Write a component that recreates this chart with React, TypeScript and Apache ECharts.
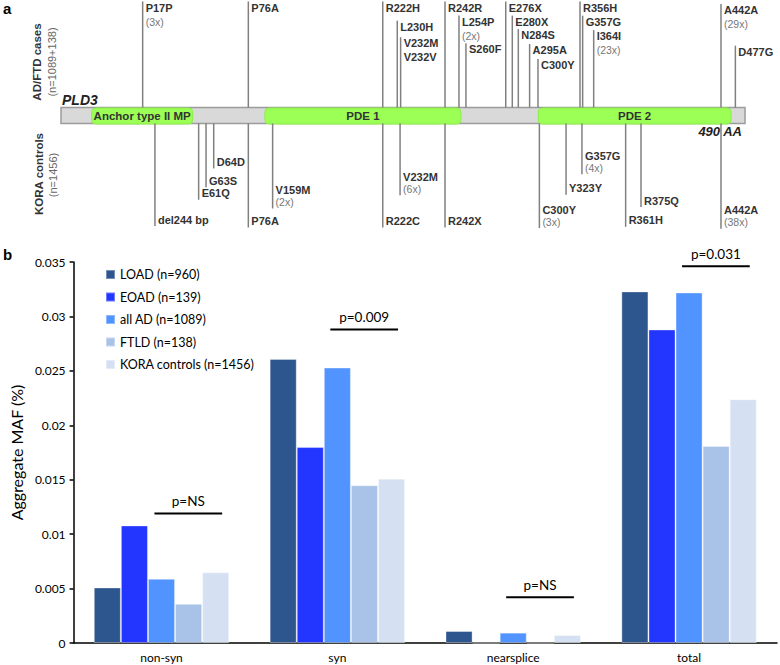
import React, { useEffect, useRef } from "react";
import * as echarts from "echarts";

// ---------- panel b data ----------
const categories = ["non-syn", "syn", "nearsplice", "total"];
const groupNames = [
  "LOAD (n=960)",
  "EOAD (n=139)",
  "all AD (n=1089)",
  "FTLD (n=138)",
  "KORA controls (n=1456)",
];
const loadValues = [0.0051, 0.0261, 0.0011, 0.0323];
const eoadValues = [0.0108, 0.018, 0, 0.0288];
const allAdValues = [0.0059, 0.0253, 0.00095, 0.0322];
const ftldValues = [0.0036, 0.0145, 0, 0.0181];
const koraValues = [0.0065, 0.0151, 0.00073, 0.0224];
const groupValues = [loadValues, eoadValues, allAdValues, ftldValues, koraValues];
const groupColors = ["#2E568E", "#2336FF", "#5294FF", "#A9C3E8", "#D5E1F3"];
const yMax = 0.035;
const yInterval = 0.005;
const pAnnotations = [
  { cat: "non-syn", y: 0.0119, label: "p=NS" },
  { cat: "syn", y: 0.0288, label: "p=0.009" },
  { cat: "nearsplice", y: 0.0042, label: "p=NS" },
  { cat: "total", y: 0.0346, label: "p=0.031" },
];

// ---------- panel a data (schematic position along the 490 AA diagram) ----------
const proteinLength = 490;
const backbone = [[0, proteinLength]];
const domains = [
  { name: "Anchor type II MP", start: 22.0, end: 94.3 },
  { name: "PDE 1", start: 146.1, end: 286.5 },
  { name: "PDE 2", start: 341.9, end: 480.0 },
];
type Mut = { label: string; label2?: string; count?: string; x: number; tier: number };
const caseMutations: Mut[] = [
  { label: "P17P", count: "(3x)", x: 58.5, tier: 0 },
  { label: "P76A", x: 134.2, tier: 0 },
  { label: "R222H", x: 230.5, tier: 0 },
  { label: "L230H", x: 240.9, tier: 1.34 },
  { label: "V232M", label2: "V232V", x: 243.3, tier: 2.5 },
  { label: "R242R", x: 275.1, tier: 0 },
  { label: "L254P", count: "(2x)", x: 285.1, tier: 0.98 },
  { label: "S260F", x: 290.1, tier: 2.92 },
  { label: "E276X", x: 318.6, tier: 0 },
  { label: "E280X", x: 323.3, tier: 0.99 },
  { label: "N284S", x: 327.6, tier: 1.93 },
  { label: "A295A", x: 335.7, tier: 2.97 },
  { label: "C300Y", x: 341.7, tier: 4.02 },
  { label: "R356H", x: 371.8, tier: 0 },
  { label: "G357G", x: 373.7, tier: 0.99 },
  { label: "I364I", count: "(23x)", x: 381.6, tier: 2.0 },
  { label: "A442A", count: "(29x)", x: 472.8, tier: 0.17 },
  { label: "D477G", x: 483.1, tier: 3.09 },
];
const controlMutations: Mut[] = [
  { label: "del244 bp", x: 67.3, tier: 0.1 },
  { label: "E61Q", x: 98.6, tier: 1.94 },
  { label: "G63S", x: 103.9, tier: 2.81 },
  { label: "D64D", x: 109.4, tier: 4.13 },
  { label: "P76A", x: 134.2, tier: 0 },
  { label: "V159M", count: "(2x)", x: 151.6, tier: 2.17 },
  { label: "R222C", x: 230.5, tier: 0 },
  { label: "V232M", count: "(6x)", x: 242.9, tier: 3.1 },
  { label: "R242X", x: 275.1, tier: 0 },
  { label: "C300Y", count: "(3x)", x: 342.7, tier: 0.8 },
  { label: "Y323Y", x: 361.8, tier: 2.29 },
  { label: "G357G", count: "(4x)", x: 373.2, tier: 4.57 },
  { label: "R361H", x: 404.5, tier: 0.05 },
  { label: "R375Q", x: 415.5, tier: 1.43 },
  { label: "A442A", count: "(38x)", x: 472.8, tier: 0.75 },
];

// diagram vertical layout (in diagram units of the hidden y axis)
const BAR_TOP = 107.5;
const BAR_BOTTOM = 123.5;
const CASE_ROW0 = 7.5;
const CTRL_ROW0 = 221;
const ROW = 14.3;

const SANS = "Lato, 'Open Sans', sans-serif";
const ARIAL = "'Liberation Sans', Arial, sans-serif";
const LINE_COLOR = "#808080";

function mutationRenderer(list: Mut[], side: "case" | "ctrl") {
  return (params: any, api: any) => {
    const m = list[params.dataIndex];
    const x = api.coord([api.value(0), 0])[0];
    const children: any[] = [];
    const lines: { text: string; bold: boolean }[] = [{ text: m.label, bold: true }];
    if (m.label2) lines.push({ text: m.label2, bold: true });
    if (m.count) lines.push({ text: m.count, bold: false });
    const step = side === "case" ? 14 : 12;
    let y0: number, y1: number, firstY: number;
    if (side === "case") {
      firstY = api.coord([0, CASE_ROW0 + ROW * m.tier])[1];
      y0 = Math.max(1, firstY - 6);
      y1 = api.coord([0, BAR_TOP])[1];
    } else {
      firstY = api.coord([0, CTRL_ROW0 - ROW * m.tier])[1];
      y0 = api.coord([0, BAR_BOTTOM])[1];
      y1 = firstY + step * (lines.length - 1) + 6.5;
    }
    children.push({
      type: "line",
      shape: { x1: x, y1: y0, x2: x, y2: y1 },
      style: { stroke: LINE_COLOR, lineWidth: 1.5 },
    });
    lines.forEach((ln, i) => {
      children.push({
        type: "text",
        style: {
          text: ln.text,
          x: x + 3,
          y: firstY + i * step,
          align: "left",
          verticalAlign: "middle",
          fontFamily: ARIAL,
          fontSize: ln.bold ? 11 : 10.5,
          fontWeight: ln.bold ? "bold" : "normal",
          fill: ln.bold ? "#333333" : "#777777",
        },
      });
    });
    return { type: "group", children };
  };
}

export default function App() {
  const ref = useRef<HTMLDivElement>(null);
  useEffect(() => {
    if (!ref.current) return;
    const chart = echarts.init(ref.current, undefined, { renderer: "svg" });

    const barSeries = groupNames.map((name, i) => ({
      name,
      type: "bar",
      xAxisIndex: 0,
      yAxisIndex: 0,
      data: groupValues[i],
      barGap: "0%",
      barCategoryGap: "23%",
      itemStyle: {
        color: groupColors[i],
        borderColor: "rgba(255,255,255,0.35)",
        borderWidth: 1,
      },
    }));

    const option: any = {
      animation: false,
      backgroundColor: "#ffffff",
      grid: [
        { left: 67, right: 3, top: 262, bottom: 22 },
        { left: 61, width: 684, top: 0, height: 240 },
      ],
      xAxis: [
        {
          type: "category",
          gridIndex: 0,
          data: categories,
          axisLine: { lineStyle: { color: "#000", width: 1.5 } },
          axisTick: { length: 4, lineStyle: { color: "#000", width: 1.5 } },
          axisLabel: { fontFamily: SANS, fontSize: 12, color: "#000", margin: 8 },
        },
        { type: "value", gridIndex: 1, min: 0, max: proteinLength, show: false },
      ],
      yAxis: [
        {
          type: "value",
          gridIndex: 0,
          min: 0,
          max: yMax,
          interval: yInterval,
          splitLine: { show: false },
          axisLine: { show: true, lineStyle: { color: "#000", width: 1.5 } },
          axisTick: { show: true, length: 4, lineStyle: { color: "#000", width: 1.5 } },
          axisLabel: {
            fontFamily: SANS,
            fontSize: 12,
            color: "#000",
            margin: 8,
            formatter: (v: number) => (v === 0 ? "0" : String(+v.toFixed(3))),
          },
          name: "Aggregate MAF (%)",
          nameLocation: "middle",
          nameGap: 37,
          nameTextStyle: { fontFamily: SANS, fontSize: 16, color: "#000" },
        },
        { type: "value", gridIndex: 1, min: 0, max: 240, inverse: true, show: false },
      ],
      legend: {
        data: groupNames,
        orient: "vertical",
        left: 100,
        top: 263,
        itemWidth: 9,
        itemHeight: 9,
        itemGap: 9.5,
        icon: "rect",
        textStyle: { fontFamily: SANS, fontSize: 12.5, color: "#000", lineHeight: 13 },
      },
      series: [
        ...barSeries,
        {
          type: "custom",
          name: "pvalues",
          xAxisIndex: 0,
          yAxisIndex: 0,
          z: 5,
          data: pAnnotations.map((p) => [categories.indexOf(p.cat), p.y]),
          renderItem: (params: any, api: any) => {
            const p = pAnnotations[params.dataIndex];
            const c = api.coord([api.value(0), api.value(1)]);
            const w = api.size([1, 0])[0];
            const xa = c[0] - 0.04 * w;
            const xb = c[0] + 0.345 * w;
            return {
              type: "group",
              children: [
                {
                  type: "line",
                  shape: { x1: xa, y1: c[1], x2: xb, y2: c[1] },
                  style: { stroke: "#000", lineWidth: 2 },
                },
                {
                  type: "text",
                  style: {
                    text: p.label,
                    x: (xa + xb) / 2,
                    y: c[1] - 12,
                    align: "center",
                    verticalAlign: "middle",
                    fontFamily: SANS,
                    fontSize: 13.5,
                    fill: "#000",
                  },
                },
              ],
            };
          },
        },
        {
          type: "custom",
          name: "backbone",
          xAxisIndex: 1,
          yAxisIndex: 1,
          z: 1,
          data: backbone,
          renderItem: (params: any, api: any) => {
            const a = api.coord([api.value(0), BAR_TOP]);
            const b = api.coord([api.value(1), BAR_BOTTOM]);
            return {
              type: "rect",
              shape: { x: a[0], y: a[1], width: b[0] - a[0], height: b[1] - a[1] },
              style: { fill: "#D9D9D9", stroke: "#9C9C9C", lineWidth: 1.5 },
            };
          },
        },
        {
          type: "custom",
          name: "domains",
          xAxisIndex: 1,
          yAxisIndex: 1,
          z: 2,
          data: domains.map((d) => [d.start, d.end]),
          renderItem: (params: any, api: any) => {
            const d = domains[params.dataIndex];
            const a = api.coord([api.value(0), BAR_TOP + 0.5]);
            const b = api.coord([api.value(1), BAR_BOTTOM + 0.5]);
            return {
              type: "group",
              children: [
                {
                  type: "rect",
                  shape: { x: a[0], y: a[1], width: b[0] - a[0], height: b[1] - a[1], r: 4 },
                  style: { fill: "#9BFF55", stroke: "#8CEF48", lineWidth: 1 },
                },
                {
                  type: "text",
                  style: {
                    text: d.name,
                    x: (a[0] + b[0]) / 2,
                    y: (a[1] + b[1]) / 2,
                    align: "center",
                    verticalAlign: "middle",
                    fontFamily: ARIAL,
                    fontSize: 11.5,
                    fontWeight: "bold",
                    fill: "#333333",
                  },
                },
              ],
            };
          },
        },
        {
          type: "custom",
          name: "cases",
          xAxisIndex: 1,
          yAxisIndex: 1,
          z: 3,
          data: caseMutations.map((m) => [m.x, m.tier]),
          renderItem: mutationRenderer(caseMutations, "case"),
        },
        {
          type: "custom",
          name: "controls",
          xAxisIndex: 1,
          yAxisIndex: 1,
          z: 3,
          data: controlMutations.map((m) => [m.x, m.tier]),
          renderItem: mutationRenderer(controlMutations, "ctrl"),
        },
      ],
      graphic: [
        {
          type: "text",
          left: 3,
          top: 1,
          style: { text: "a", fontFamily: ARIAL, fontSize: 15, fontWeight: "bold", fill: "#000" },
        },
        {
          type: "text",
          left: 3,
          top: 247,
          style: { text: "b", fontFamily: ARIAL, fontSize: 15, fontWeight: "bold", fill: "#000" },
        },
        {
          type: "text",
          x: 37,
          y: 62,
          rotation: Math.PI / 2,
          style: {
            text: "AD/FTD cases",
            align: "center",
            verticalAlign: "middle",
            fontFamily: ARIAL,
            fontSize: 11.5,
            fontWeight: "bold",
            fill: "#333",
          },
        },
        {
          type: "text",
          x: 52,
          y: 62,
          rotation: Math.PI / 2,
          style: {
            text: "(n=1089+138)",
            align: "center",
            verticalAlign: "middle",
            fontFamily: ARIAL,
            fontSize: 11,
            fill: "#666",
          },
        },
        {
          type: "text",
          x: 39,
          y: 174,
          rotation: Math.PI / 2,
          style: {
            text: "KORA controls",
            align: "center",
            verticalAlign: "middle",
            fontFamily: ARIAL,
            fontSize: 11.5,
            fontWeight: "bold",
            fill: "#333",
          },
        },
        {
          type: "text",
          x: 53,
          y: 175,
          rotation: Math.PI / 2,
          style: {
            text: "(n=1456)",
            align: "center",
            verticalAlign: "middle",
            fontFamily: ARIAL,
            fontSize: 11,
            fill: "#666",
          },
        },
        {
          type: "text",
          x: 62,
          y: 100,
          style: {
            text: "PLD3",
            align: "left",
            verticalAlign: "middle",
            fontFamily: ARIAL,
            fontSize: 14,
            fontWeight: "bold",
            fontStyle: "italic",
            fill: "#222",
          },
        },
        {
          type: "text",
          x: 742,
          y: 131,
          z: 10,
          style: {
            text: `${proteinLength} AA`,
            align: "right",
            verticalAlign: "middle",
            fontFamily: ARIAL,
            fontSize: 13,
            fontWeight: "bold",
            fontStyle: "italic",
            fill: "#222",
          },
        },
      ],
    };
    chart.setOption(option);
    return () => chart.dispose();
  }, []);
  return (
    <div
      ref={ref}
      style={{ position: "absolute", left: 0, top: 0, width: 780, height: 665, background: "#fff" }}
    />
  );
}
